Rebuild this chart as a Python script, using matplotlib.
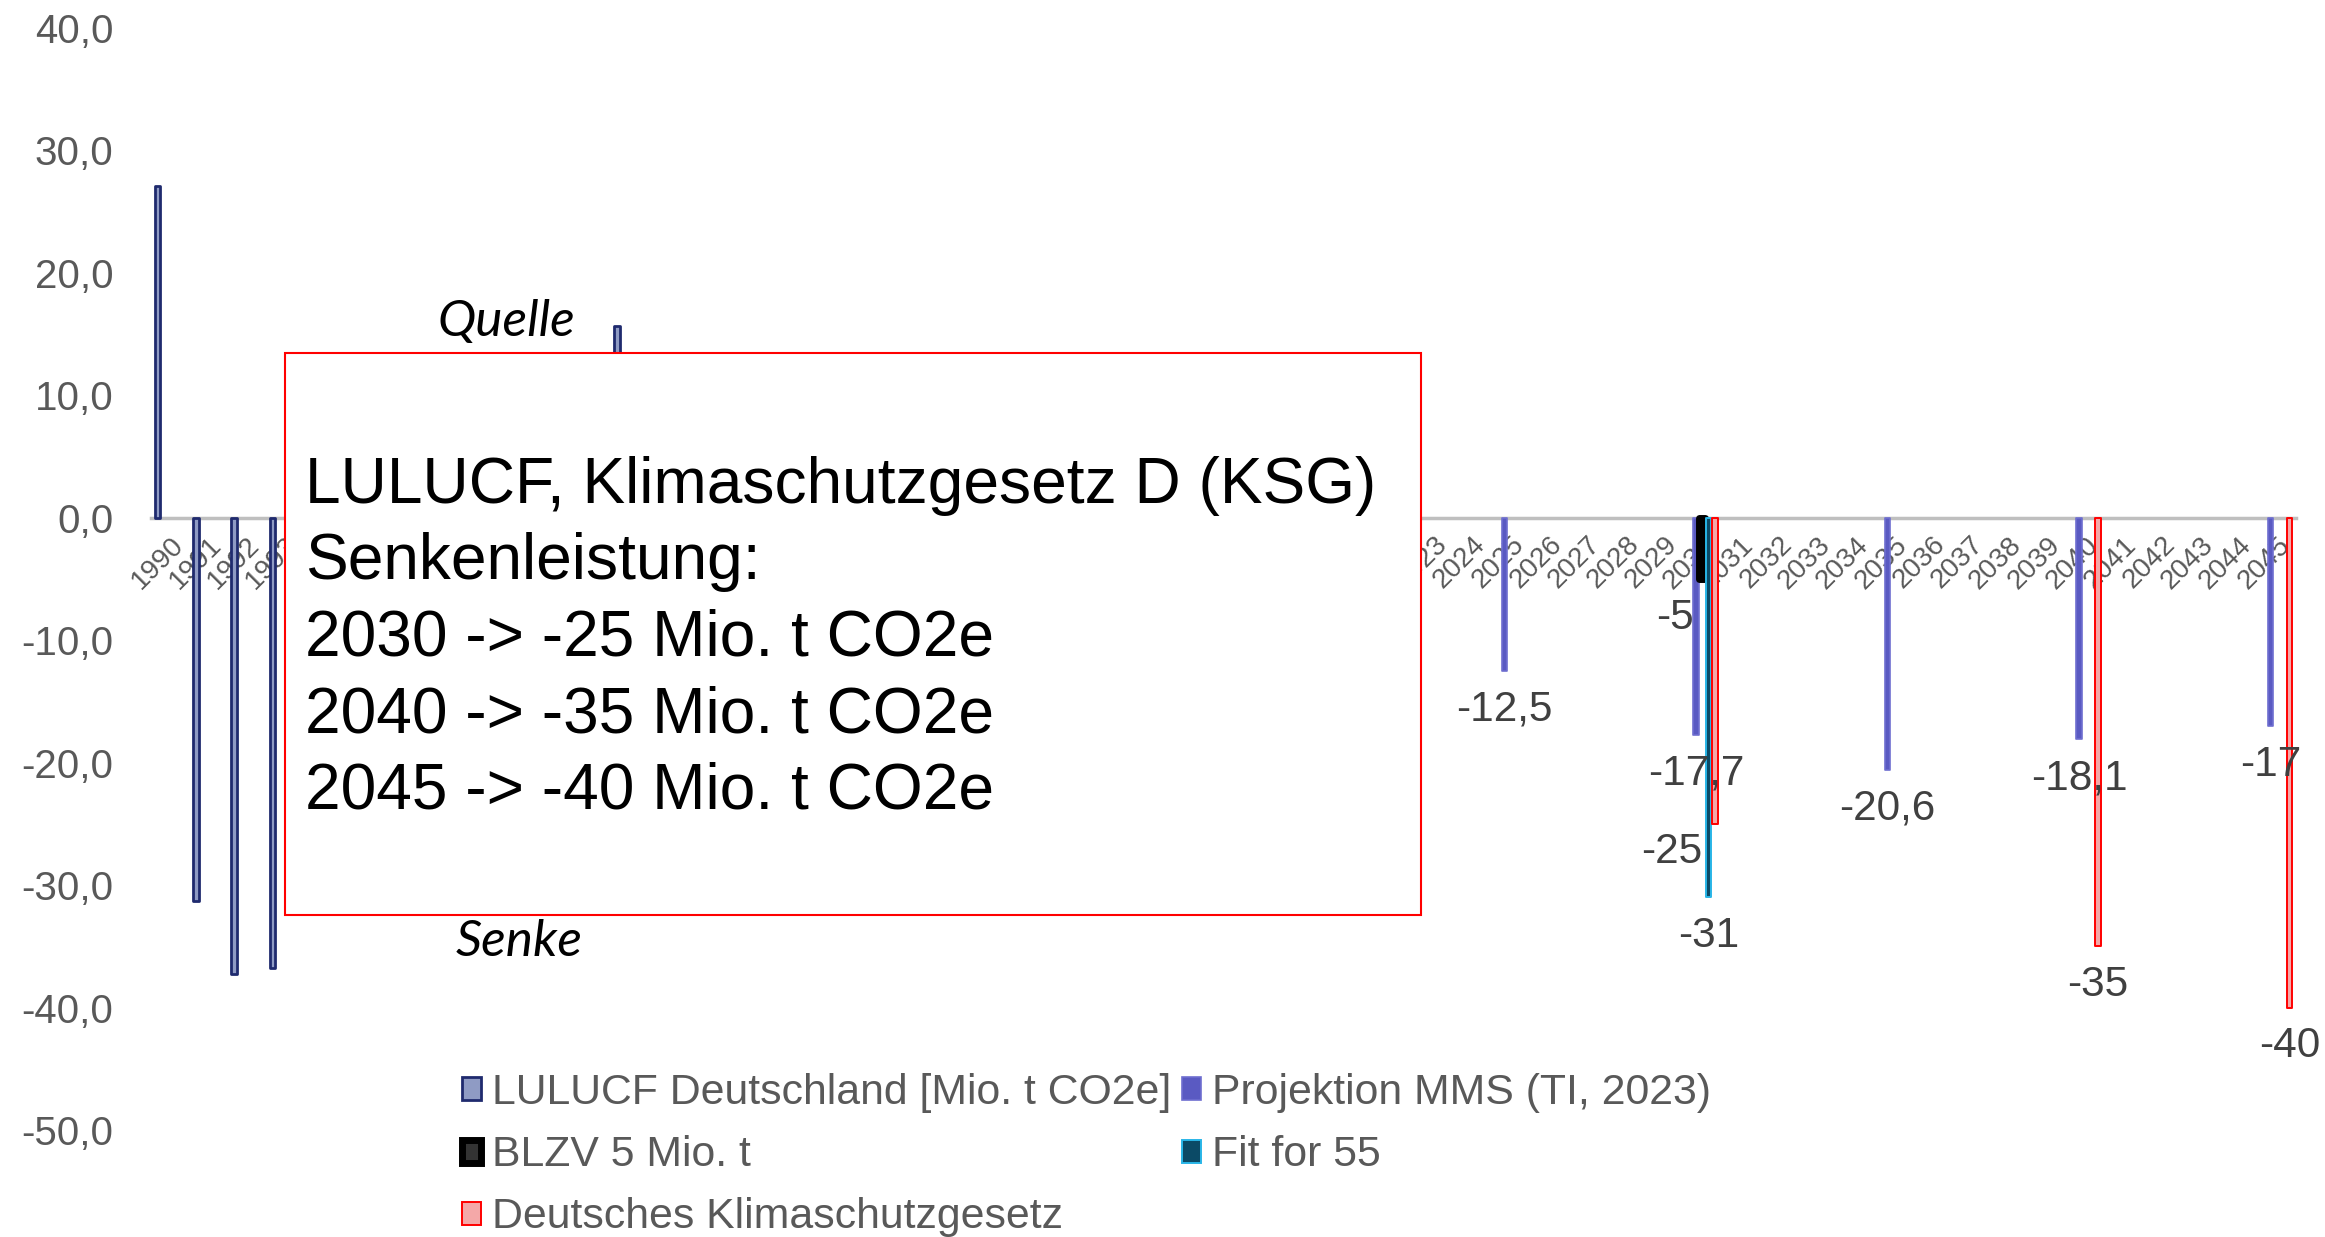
import numpy as np
import matplotlib.pyplot as plt
from matplotlib.patches import Rectangle

plt.rcParams['font.family'] = ['Liberation Sans', 'DejaVu Sans']

# categories
years = list(range(1990, 2046))

# series values (Mio. t CO2e); years behind the text box cannot be read and are left out
lulucf = {1990: 27.1, 1991: -31.3, 1992: -37.3, 1993: -36.8, 2002: 15.7}
mms = {2025: -12.5, 2030: -17.7, 2035: -20.6, 2040: -18.1, 2045: -17}
blzv = {2030: -5}
fit55 = {2030: -31}
ksg = {2030: -25, 2040: -35, 2045: -40}

names = ["LULUCF Deutschland [Mio. t CO2e]", "Projektion MMS (TI, 2023)",
         "BLZV 5 Mio. t", "Fit for 55", "Deutsches Klimaschutzgesetz"]
box_lines = ["LULUCF, Klimaschutzgesetz D (KSG)", "Senkenleistung:",
             "2030 -> -25 Mio. t CO2e", "2040 -> -35 Mio. t CO2e",
             "2045 -> -40 Mio. t CO2e"]

# styles: face, edge, linewidth
styles = [("#8f9bc4", "#1f2a6e", 2.0),
          ("#5a5ac2", "#6e6ed0", 1.2),
          ("#333333", "black", 5.0),
          ("#0b4a66", "#29b6e8", 1.4),
          ("#f4a8a8", "#ff0000", 1.4)]

W, H = 2325, 1237
fig = plt.figure(figsize=(W / 100, H / 100), dpi=100)
ax = fig.add_axes([151 / W, 1 - 1130 / H, (2296 - 151) / W, (1130 - 28) / H])

x = np.arange(len(years))
step = 0.165
bars = []
for k, (data, name, (face, edge, lw)) in enumerate(zip([lulucf, mms, blzv, fit55, ksg], names, styles)):
    vals = [data.get(yr, np.nan) for yr in years]
    b = ax.bar(x + (k - 2) * step, vals, width=0.15, color=face, edgecolor=edge,
               linewidth=lw, label=name, zorder=2, capstyle='round', joinstyle='round')
    bars.append(b)
    if k == 0:
        continue
    for yr, v in data.items():
        xi = years.index(yr) + (k - 2) * step
        dx, dy = 0, -28
        if k == 2:
            dx = -20
        if k == 4 and yr == 2030:
            dx, dy = -31, -20
        ax.annotate(f"{v:g}".replace('.', ','), (xi, v), xytext=(dx, dy),
                    textcoords='offset points', ha='center', va='center',
                    fontsize=30.5, color='#404040', zorder=4, annotation_clip=False)

ax.set_xlim(-0.5, len(years) - 0.5)
ax.set_ylim(-50, 40)
for s in ['top', 'right', 'left']:
    ax.spines[s].set_visible(False)
ax.spines['bottom'].set_position(('data', 0))
ax.spines['bottom'].set_color('#bfbfbf')
ax.spines['bottom'].set_linewidth(2.5)
ax.spines['bottom'].set_zorder(1.8)

ax.set_xticks(x)
ax.set_xticklabels([str(y) for y in years], rotation=45, ha='right', va='top',
                   rotation_mode='anchor', fontsize=20, color='#595959')
ax.set_yticks(range(-50, 41, 10))
ax.set_yticklabels([f"{v:.1f}".replace('.', ',') for v in range(-50, 41, 10)],
                   fontsize=29, color='#595959')
ax.tick_params(axis='both', length=0)
ax.tick_params(axis='x', pad=10)
ax.tick_params(axis='y', pad=27)

# annotation box
ax.add_patch(Rectangle((285 / W, 1 - 915 / H), (1421 - 285) / W, (915 - 353) / H,
                       transform=fig.transFigure, facecolor='white', edgecolor='red',
                       linewidth=1.5, clip_on=False, zorder=5))
for i, line in enumerate(box_lines):
    ax.text(305 / W, 1 - (486 + i * 76.4) / H, line, transform=fig.transFigure,
            fontsize=46.1, color='black', va='center', ha='left', zorder=6)

ax.text(506 / W, 1 - 322 / H, "Quelle", transform=fig.transFigure, fontsize=37,
        style='italic', family=['Lato', 'DejaVu Sans'], ha='center', va='center')
ax.text(519 / W, 1 - 942 / H, "Senke", transform=fig.transFigure, fontsize=37,
        style='italic', family=['Lato', 'DejaVu Sans'], ha='center', va='center')

order = [0, 2, 4, 1, 3]
fig.legend([bars[i] for i in order], [names[i] for i in order], loc='upper left',
           bbox_to_anchor=(462 / W, 1 - 1073 / H), ncol=2, frameon=False, fontsize=30.8,
           labelcolor='#595959', handlelength=0.45, handleheight=0.45,
           handletextpad=0.25, columnspacing=0.25, labelspacing=0.52,
           borderpad=0, borderaxespad=0)

fig.savefig("out.png", dpi=100)
